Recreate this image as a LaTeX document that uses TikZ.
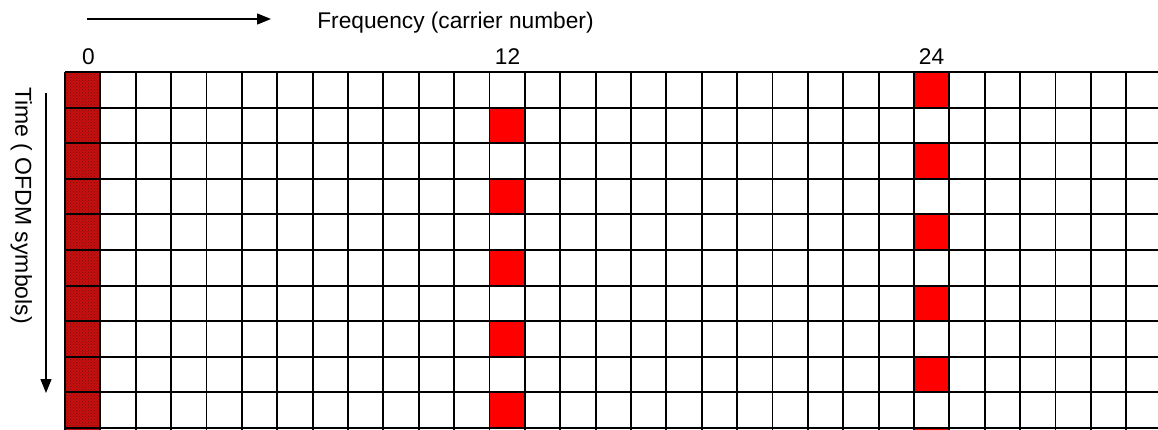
\documentclass[tikz,border=0pt]{standalone}
\usepackage{fontspec}
\setmainfont{Liberation Sans}
\usetikzlibrary{patterns,arrows.meta}
\definecolor{pilotred}{RGB}{255,0,0}
\definecolor{contred}{RGB}{200,16,16}
\definecolor{contdot}{RGB}{120,10,10}
\tikzset{
  gridline/.style={black, line width=1.9pt},
  pilot/.style={fill=pilotred, draw=none},
  continual/.style={fill=contred, draw=none},
  contdots/.style={pattern=crosshatch dots, pattern color=contdot, draw=none},
  axisarrow/.style={black, line width=1.4pt, -{Triangle[length=14pt,width=11pt]}},
  labeltext/.style={font=\fontsize{22.7}{24}\selectfont, inner sep=0pt},
  timetext/.style={font=\fontsize{23}{24}\selectfont, inner sep=0pt},
}
\begin{document}
\begin{tikzpicture}[x=1pt,y=-1pt]
\useasboundingbox (0,0) rectangle (1158,430);
\fill[white] (0,0) rectangle (1158,430);
\def\cw{35.375}
\def\rh{35.6}
\def\gx{65}
\def\gy{72}
\begin{scope}
\clip (0,0) rectangle (1158,430);
% continual pilot column 0
\fill[continual] (\gx,\gy) rectangle (\gx+\cw,430);
\fill[contdots] (\gx,\gy) rectangle (\gx+\cw,430);
% scattered pilots column 12 (odd rows)
\foreach \r in {1,3,5,7,9}
  \fill[pilot] (\gx+12*\cw,\gy+\r*\rh) rectangle (\gx+13*\cw,\gy+\r*\rh+\rh);
% scattered pilots column 24 (even rows)
\foreach \r in {0,2,4,6,8,10}
  \fill[pilot] (\gx+24*\cw,\gy+\r*\rh) rectangle (\gx+25*\cw,\gy+\r*\rh+\rh);
% grid
\foreach \k in {0,...,30}
  \draw[gridline] (\gx+\k*\cw,\gy) -- (\gx+\k*\cw,432);
\foreach \j in {0,...,10}
  \draw[gridline] (\gx,\gy+\j*\rh) -- (1160,\gy+\j*\rh);
\end{scope}
% labels
\node[labeltext, anchor=base] (freq) at (455.5,29) {Frequency (carrier number)};
\node[labeltext, anchor=base] (c0) at (88.5,65) {0};
\node[labeltext, anchor=base] (c12) at (507.5,65) {12};
\node[labeltext, anchor=base] (c24) at (931.5,65) {24};
\node[timetext, anchor=base west, rotate=-90] (time) at (15.5,87) {Time ( OFDM symbols)};
% arrows
\coordinate (fstart) at (87,19);
\coordinate (fend) at (271,19);
\draw[axisarrow] (fstart) -- (fend);
\coordinate (tstart) at (46,93);
\coordinate (tend) at (46,393);
\draw[axisarrow] (tstart) -- (tend);
\end{tikzpicture}
\end{document}
